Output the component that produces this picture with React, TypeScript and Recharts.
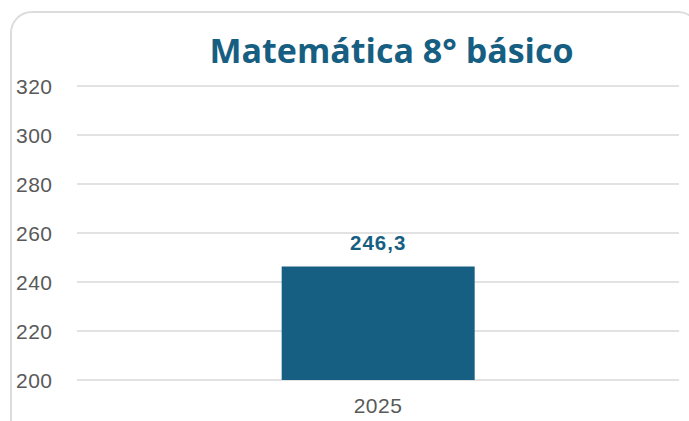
import { BarChart, Bar, XAxis, YAxis, CartesianGrid, LabelList } from 'recharts'

const years = ['2025']
const scores = [246.3]
const yTicks = [200, 220, 240, 260, 280, 300, 320]

const data = years.map((year, i) => ({ year, score: scores[i] }))

const BLUE = '#175f82'
const GREY_TEXT = '#595959'
const FONT = "'Liberation Sans', Arial, sans-serif"

function YTick({ y, payload }: any) {
  return (
    <text x={16} y={y} dy={7.5} textAnchor="start" fill={GREY_TEXT} fontSize={21} letterSpacing={0.5} fontFamily={FONT}>
      {payload.value}
    </text>
  )
}

function ValueLabel({ x, y, width, value }: any) {
  return (
    <text
      x={x + width / 2}
      y={y - 17}
      textAnchor="middle"
      fill={BLUE}
      fontSize={20.5}
      fontWeight="bold"
      letterSpacing={1}
      fontFamily={FONT}
    >
      {String(value).replace('.', ',')}
    </text>
  )
}

export default function App() {
  return (
    <div style={{ position: 'absolute', left: 0, top: 0, width: 689, height: 421, overflow: 'hidden', background: '#fff' }}>
      <div
        style={{
          position: 'absolute',
          left: 10,
          top: 11,
          width: 690,
          height: 440,
          border: '2px solid #dcdcdc',
          borderRadius: 22,
          boxSizing: 'border-box',
        }}
      />
      <div
        style={{
          position: 'absolute',
          left: 0,
          width: 689,
          top: 30,
          paddingLeft: 94,
          boxSizing: 'border-box',
          textAlign: 'center',
          fontFamily: "'Open Sans', sans-serif",
          fontWeight: 700,
          fontSize: 34,
          color: BLUE,
          lineHeight: '40px',
        }}
      >
        Matemática 8° básico
      </div>
      <div style={{ position: 'absolute', left: 0, top: 0 }}>
        <BarChart width={689} height={421} data={data} margin={{ top: 86, right: 10, left: 0, bottom: 0 }} barCategoryGap="34%">
          <CartesianGrid vertical={false} stroke="#d9d9d9" strokeWidth={1.5} />
          <XAxis
            dataKey="year"
            axisLine={false}
            tickLine={false}
            height={41}
            tick={{ fill: GREY_TEXT, fontSize: 21, letterSpacing: 0.5, fontFamily: FONT, dy: 10 }}
          />
          <YAxis
            domain={[200, 320]}
            ticks={yTicks}
            width={77}
            axisLine={false}
            tickLine={false}
            tick={<YTick />}
            allowDataOverflow
          />
          <Bar dataKey="score" fill={BLUE} isAnimationActive={false}>
            <LabelList dataKey="score" content={<ValueLabel />} />
          </Bar>
        </BarChart>
      </div>
    </div>
  )
}
